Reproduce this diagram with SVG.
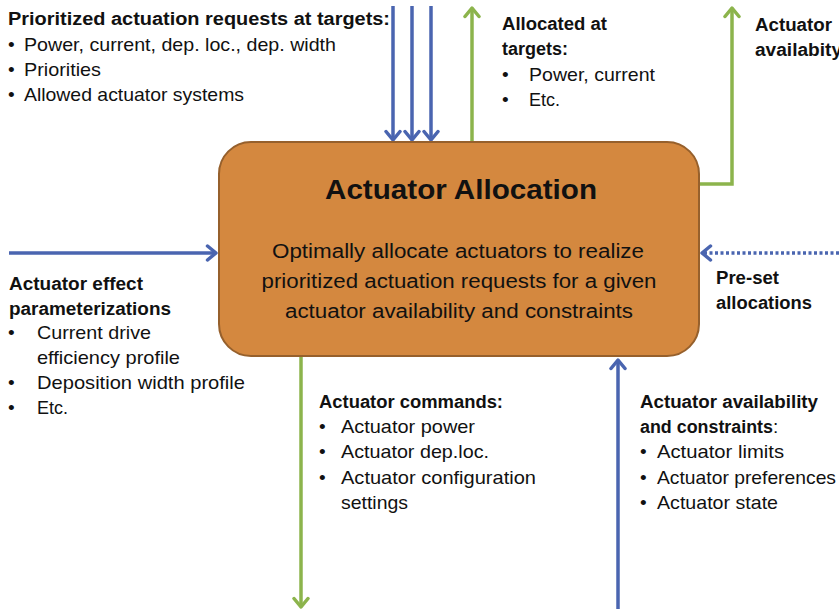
<svg xmlns="http://www.w3.org/2000/svg" width="839" height="613" viewBox="0 0 839 613">
<defs>
<style>
text{font-family:"Liberation Sans",Arial,sans-serif;fill:#111;}
.b{font-weight:bold;font-size:18px;}
.r{font-size:19px;}
.t{font-weight:bold;font-size:28px;}
.c{font-size:20px;}
.blue{stroke:#4A65B0;stroke-width:3.5;fill:none;}
.green{stroke:#8CB44C;stroke-width:3.5;fill:none;}
</style>
<marker id="ab" viewBox="0 0 14 18" refX="11" refY="9" markerWidth="14" markerHeight="18" markerUnits="userSpaceOnUse" orient="auto">
<path d="M2.5,2 L11,9 L2.5,16" fill="none" stroke="#4A65B0" stroke-width="3.5" stroke-linecap="round" stroke-linejoin="round"/>
</marker>
<marker id="ag" viewBox="0 0 14 18" refX="11" refY="9" markerWidth="14" markerHeight="18" markerUnits="userSpaceOnUse" orient="auto">
<path d="M2.5,2 L11,9 L2.5,16" fill="none" stroke="#8CB44C" stroke-width="3.5" stroke-linecap="round" stroke-linejoin="round"/>
</marker>
</defs>
<rect width="839" height="613" fill="#fff"/>

<g id="connectors">
<line class="blue" x1="393" y1="6" x2="393" y2="140" marker-end="url(#ab)"/>
<line class="blue" x1="412" y1="6" x2="412" y2="140" marker-end="url(#ab)"/>
<line class="blue" x1="431" y1="6" x2="431" y2="140" marker-end="url(#ab)"/>
<line class="green" x1="472" y1="142" x2="472" y2="8" marker-end="url(#ag)"/>
<polyline class="green" points="699,184 732,184 732,8" marker-end="url(#ag)"/>
<line class="blue" x1="9" y1="253" x2="216" y2="253" marker-end="url(#ab)"/>
<line class="blue" x1="839" y1="253" x2="702" y2="253" stroke-dasharray="3 2.5" stroke-width="3"/>
<path d="M710.5,246 L702,253 L710.5,260" fill="none" stroke="#4A65B0" stroke-width="3.5" stroke-linecap="round" stroke-linejoin="round"/>
<line class="green" x1="301" y1="356" x2="301" y2="607" marker-end="url(#ag)"/>
<line class="blue" x1="618" y1="609" x2="618" y2="360" marker-end="url(#ab)"/>
</g>

<g id="actuator-allocation">
<rect x="219" y="142" width="480" height="214" rx="32" ry="32" fill="#D4883F" stroke="#96602C" stroke-width="2"/>
<text class="t" x="461" y="199" text-anchor="middle" textLength="272" lengthAdjust="spacingAndGlyphs">Actuator Allocation</text>
<text class="c" x="458" y="258" text-anchor="middle" textLength="372" lengthAdjust="spacingAndGlyphs">Optimally allocate actuators to realize</text>
<text class="c" x="459" y="288" text-anchor="middle" textLength="395" lengthAdjust="spacingAndGlyphs">prioritized actuation requests for a given</text>
<text class="c" x="459" y="318" text-anchor="middle" textLength="348" lengthAdjust="spacingAndGlyphs">actuator availability and constraints</text>
</g>

<g id="requests-label">
<text class="b" x="8" y="25" textLength="382" lengthAdjust="spacingAndGlyphs">Prioritized actuation requests at targets:</text>
<text class="r" x="8" y="51">•</text>
<text class="r" x="24" y="51" textLength="312" lengthAdjust="spacingAndGlyphs">Power, current, dep. loc., dep. width</text>
<text class="r" x="8" y="76">•</text>
<text class="r" x="24" y="76" textLength="77" lengthAdjust="spacingAndGlyphs">Priorities</text>
<text class="r" x="8" y="101">•</text>
<text class="r" x="24" y="101" textLength="220" lengthAdjust="spacingAndGlyphs">Allowed actuator systems</text>
</g>

<g id="allocated-label">
<text class="b" x="502" y="30" textLength="105" lengthAdjust="spacingAndGlyphs">Allocated at</text>
<text class="b" x="502" y="55" textLength="66" lengthAdjust="spacingAndGlyphs">targets:</text>
<text class="r" x="502" y="81">•</text>
<text class="r" x="529" y="81" textLength="126" lengthAdjust="spacingAndGlyphs">Power, current</text>
<text class="r" x="502" y="106">•</text>
<text class="r" x="529" y="106" textLength="31" lengthAdjust="spacingAndGlyphs">Etc.</text>
</g>

<g id="availability-out-label">
<text class="b" x="755" y="31" textLength="77" lengthAdjust="spacingAndGlyphs">Actuator</text>
<text class="b" x="755" y="56" textLength="87" lengthAdjust="spacingAndGlyphs">availabity</text>
</g>

<g id="effect-label">
<text class="b" x="9" y="290" textLength="134" lengthAdjust="spacingAndGlyphs">Actuator effect</text>
<text class="b" x="9" y="315" textLength="162" lengthAdjust="spacingAndGlyphs">parameterizations</text>
<text class="r" x="8" y="339">•</text>
<text class="r" x="37" y="339" textLength="114" lengthAdjust="spacingAndGlyphs">Current drive</text>
<text class="r" x="37" y="364" textLength="143" lengthAdjust="spacingAndGlyphs">efficiency profile</text>
<text class="r" x="8" y="389">•</text>
<text class="r" x="37" y="389" textLength="208" lengthAdjust="spacingAndGlyphs">Deposition width profile</text>
<text class="r" x="8" y="414">•</text>
<text class="r" x="37" y="414" textLength="31" lengthAdjust="spacingAndGlyphs">Etc.</text>
</g>

<g id="preset-label">
<text class="b" x="716" y="284" textLength="63" lengthAdjust="spacingAndGlyphs">Pre-set</text>
<text class="b" x="716" y="309" textLength="96" lengthAdjust="spacingAndGlyphs">allocations</text>
</g>

<g id="commands-label">
<text class="b" x="319" y="408" textLength="184" lengthAdjust="spacingAndGlyphs">Actuator commands:</text>
<text class="r" x="319" y="433">•</text>
<text class="r" x="341" y="433" textLength="134" lengthAdjust="spacingAndGlyphs">Actuator power</text>
<text class="r" x="319" y="458">•</text>
<text class="r" x="341" y="458" textLength="148" lengthAdjust="spacingAndGlyphs">Actuator dep.loc.</text>
<text class="r" x="319" y="484">•</text>
<text class="r" x="341" y="484" textLength="195" lengthAdjust="spacingAndGlyphs">Actuator configuration</text>
<text class="r" x="341" y="509" textLength="67" lengthAdjust="spacingAndGlyphs">settings</text>
</g>

<g id="constraints-label">
<text class="b" x="640" y="408" textLength="178" lengthAdjust="spacingAndGlyphs">Actuator availability</text>
<text class="b" x="640" y="433" textLength="133" lengthAdjust="spacingAndGlyphs">and constraints</text>
<text class="r" x="773" y="433">:</text>
<text class="r" x="640" y="458">•</text>
<text class="r" x="657" y="458" textLength="127" lengthAdjust="spacingAndGlyphs">Actuator limits</text>
<text class="r" x="640" y="484">•</text>
<text class="r" x="657" y="484" textLength="179" lengthAdjust="spacingAndGlyphs">Actuator preferences</text>
<text class="r" x="640" y="509">•</text>
<text class="r" x="657" y="509" textLength="121" lengthAdjust="spacingAndGlyphs">Actuator state</text>
</g>
</svg>
